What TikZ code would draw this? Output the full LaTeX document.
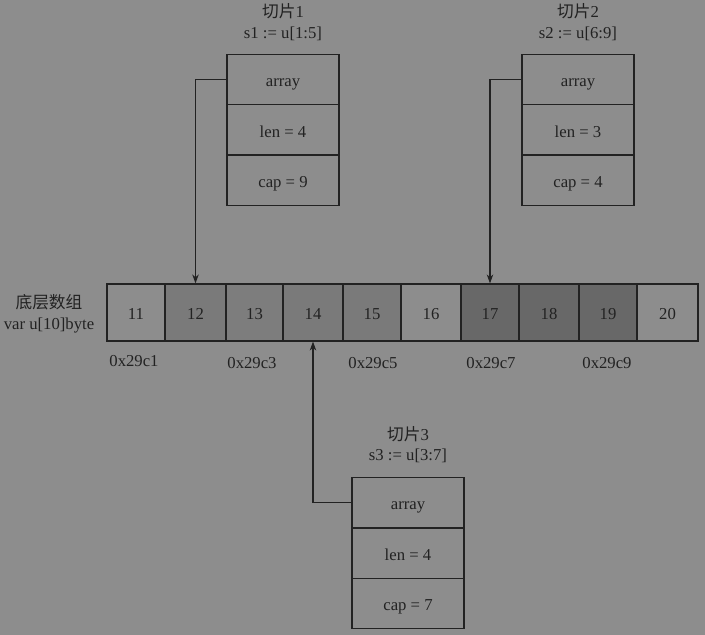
\documentclass[tikz,border=0pt]{standalone}
\usepackage{fontspec}
\setmainfont{Liberation Serif}
\newfontfamily\cjk{Noto Sans CJK SC}
\usetikzlibrary{arrows.meta}
\definecolor{bgc}{HTML}{8D8D8D}
\definecolor{ink}{HTML}{222222}
\definecolor{cA}{HTML}{8D8D8D}
\definecolor{cB}{HTML}{7A7A7A}
\definecolor{cC}{HTML}{7D7D7D}
\definecolor{cD}{HTML}{686868}
\tikzset{
  txt/.style={text=ink, font=\fontsize{16.7}{19}\selectfont, inner sep=0pt, text height=14pt, text depth=0pt},
  cell/.style={txt, draw=ink, line width=1.2pt, minimum height=57pt, anchor=center},
  row/.style={txt, draw=ink, line width=1.2pt, minimum width=112pt, minimum height=50.5pt},
  arr/.style={draw=ink, line width=1.2pt, -{Stealth[length=9pt,width=6.5pt]}}
}
\begin{document}
\begin{tikzpicture}[x=1pt,y=-1pt]
\fill[bgc] (0,0) rectangle (705,635);
\useasboundingbox (0,0) rectangle (705,635);
% array cells
\node[cell, fill=cA, minimum width=58pt] (c11) at (136,312.5) {11};
\node[cell, fill=cB, minimum width=61pt] (c12) at (195.5,312.5) {12};
\node[cell, fill=cC, minimum width=57pt] (c13) at (254.5,312.5) {13};
\node[cell, fill=cB, minimum width=60pt] (c14) at (313,312.5) {14};
\node[cell, fill=cB, minimum width=58pt] (c15) at (372,312.5) {15};
\node[cell, fill=cA, minimum width=60pt] (c16) at (431,312.5) {16};
\node[cell, fill=cD, minimum width=58pt] (c17) at (490,312.5) {17};
\node[cell, fill=cD, minimum width=60pt] (c18) at (549,312.5) {18};
\node[cell, fill=cD, minimum width=58pt] (c19) at (608,312.5) {19};
\node[cell, fill=cA, minimum width=61pt] (c20) at (667.5,312.5) {20};
% left label
\node[txt] (lbl1) at (49,301) {\cjk 底层数组};
\node[txt] (lbl2) at (49,322) {var u[10]byte};
% addresses
\node[txt] (a1) at (134,359.5) {0x29c1};
\node[txt] (a3) at (252,361) {0x29c3};
\node[txt] (a5) at (373,361) {0x29c5};
\node[txt] (a7) at (491,361) {0x29c7};
\node[txt] (a9) at (607,361) {0x29c9};
% slice 1
\node[txt] (t1) at (283,10.5) {{\cjk 切片}1};
\node[txt] (u1) at (283,31) {s1 := u[1:5]};
\node[row] (b1a) at (283,79.5) {array};
\node[row] (b1b) at (283,130) {len = 4};
\node[row] (b1c) at (283,180) {cap = 9};
% slice 2
\node[txt] (t2) at (578,10.5) {{\cjk 切片}2};
\node[txt] (u2) at (578,31) {s2 := u[6:9]};
\node[row] (b2a) at (578,79.5) {array};
\node[row] (b2b) at (578,130) {len = 3};
\node[row] (b2c) at (578,180) {cap = 4};
% slice 3
\node[txt] (t3) at (408,433) {{\cjk 切片}3};
\node[txt] (u3) at (408,453) {s3 := u[3:7]};
\node[row] (b3a) at (408,502.5) {array};
\node[row] (b3b) at (408,553.5) {len = 4};
\node[row] (b3c) at (408,603.5) {cap = 7};
% connectors
\draw[arr] (b1a.west) -| (c12.north);
\draw[arr] (b2a.west) -| (c17.north);
\draw[arr] (b3a.west) -| (c14.south);
\end{tikzpicture}
\end{document}
